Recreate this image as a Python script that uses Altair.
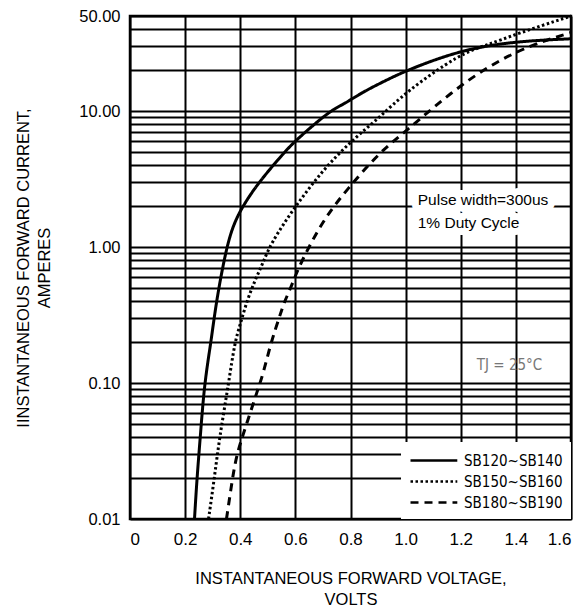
import altair as alt
import pandas as pd

# ---- data ----
series_names = ["SB120~SB140", "SB150~SB160", "SB180~SB190"]

v_solid = [0.234, 0.243, 0.255, 0.27, 0.294, 0.313, 0.35, 0.377, 0.409, 0.467, 0.561, 0.60,
           0.724, 0.771, 0.845, 0.918, 1.0, 1.2, 1.4, 1.6]
i_solid = [0.01, 0.02, 0.04, 0.1, 0.2, 0.4, 1.0, 1.49, 2.0, 3.0, 5.0, 6.06,
           10.0, 11.1, 13.8, 16.4, 19.8, 28.2, 32.6, 34.0]

v_dot = [0.285, 0.306, 0.325, 0.358, 0.38, 0.4, 0.424, 0.452, 0.482, 0.51, 0.6, 0.699,
         0.805, 0.907, 1.0, 1.2, 1.295, 1.4, 1.6]
i_dot = [0.01, 0.02, 0.04, 0.1, 0.2, 0.27, 0.4, 0.56, 0.76, 1.06, 2.0, 3.67,
         6.1, 9.0, 13.8, 26.6, 30.5, 36.8, 50.0]

v_dash = [0.35, 0.372, 0.387, 0.423, 0.464, 0.482, 0.512, 0.543, 0.561, 0.585, 0.608, 0.658,
          0.713, 0.786, 0.906, 1.0, 1.2, 1.4, 1.6]
i_dash = [0.01, 0.02, 0.03, 0.05, 0.09, 0.115, 0.2, 0.31, 0.4, 0.51, 0.68, 1.09,
          1.7, 2.63, 5.0, 7.06, 15.9, 28.2, 37.8]

x_ticks = [0, 0.2, 0.4, 0.6, 0.8, 1.0, 1.2, 1.4, 1.6]
y_grid = [0.01, 0.02, 0.03, 0.04, 0.05, 0.06, 0.07, 0.08, 0.09,
          0.1, 0.2, 0.3, 0.4, 0.5, 0.6, 0.7, 0.8, 0.9,
          1, 2, 3, 4, 5, 6, 7, 8, 9,
          10, 20, 30, 40, 50]
y_labeled = [0.01, 0.1, 1, 10, 50]

note_text = ["Pulse width=300us", "1% Duty Cycle"]
note_v = [1.044, 1.044]
note_i = [2.2, 1.49]

tj_text = ["TJ = 25°C"]
tj_v = [1.377]
tj_i = [0.135]

NARROW = "'DejaVu Sans Condensed', 'Liberation Sans', sans-serif"

# ---- tables ----
rows = []
for name, vs, is_ in zip(series_names, [v_solid, v_dot, v_dash], [i_solid, i_dot, i_dash]):
    for k, (v, i) in enumerate(zip(vs, is_)):
        rows.append({"series": name, "V": v, "I": i, "order": k})
df = pd.DataFrame(rows)
notes = pd.DataFrame({"V": note_v, "I": note_i, "text": note_text})
tj = pd.DataFrame({"V": tj_v, "I": tj_i, "text": tj_text})

lab_list = "[" + ",".join(str(v) for v in y_labeled) + "]"

x_enc = alt.X(
    "V:Q",
    scale=alt.Scale(domain=[0, 1.6], nice=False, zero=False),
    axis=alt.Axis(
        values=x_ticks,
        title=["INSTANTANEOUS FORWARD VOLTAGE,", "VOLTS"],
        labelExpr="datum.value == 0 ? '0' : format(datum.value, '.1f')",
        ticks=False, domain=False,
        grid=True, gridColor="black", gridWidth=2, gridOpacity=1,
        labelFontSize=17, labelColor="black", labelPadding=12,
        titleFontSize=16.5, titleFontWeight="normal", titleColor="black",
        titlePadding=23, titleLineHeight=21,
    ),
)
y_enc = alt.Y(
    "I:Q",
    scale=alt.Scale(type="log", domain=[0.01, 50], nice=False),
    axis=alt.Axis(
        values=y_grid,
        title=["IINSTANTANEOUS FORWARD CURRENT,", "AMPERES"],
        labelExpr="indexof(" + lab_list + ", datum.value) >= 0 ? format(datum.value, '.2f') : ''",
        ticks=False, domain=False,
        grid=True, gridColor="black", gridWidth=2, gridOpacity=1,
        labelFontSize=16.5, labelColor="black", labelPadding=10,
        titleFontSize=16.5, titleFontWeight="normal", titleColor="black",
        titlePadding=26, titleLineHeight=21,
    ),
)

lines = alt.Chart(df).mark_line(strokeWidth=3, color="black", interpolate="basis").encode(
    x=x_enc,
    y=y_enc,
    order="order:Q",
    strokeDash=alt.StrokeDash(
        "series:N",
        scale=alt.Scale(domain=series_names, range=[[1, 0], [2.5, 2.5], [8, 6]]),
        legend=alt.Legend(
            title=None, orient="bottom-right", offset=0, padding=8,
            fillColor="white", symbolType="M-1,0H4.2", symbolSize=324,
            symbolStrokeWidth=2.5, symbolStrokeColor="black",
            labelFont=NARROW, labelFontSize=15, labelColor="black",
            labelLimit=200, rowPadding=2, labelOffset=34,
        ),
    ),
)

halo = alt.Chart(notes).mark_text(
    align="left", baseline="middle", fontSize=15.5, color="white",
    stroke="white", strokeWidth=14, strokeJoin="round",
).encode(x="V:Q", y="I:Q", text="text:N")

note_layer = alt.Chart(notes).mark_text(
    align="left", baseline="middle", fontSize=15.5, color="black",
).encode(x="V:Q", y="I:Q", text="text:N")

tj_layer = alt.Chart(tj).mark_text(
    align="center", baseline="middle", fontSize=15, color="#777777",
    font=NARROW,
).encode(x="V:Q", y="I:Q", text="text:N")

chart = alt.layer(lines, halo, note_layer, tj_layer).properties(
    width=441, height=503,
    autosize=alt.AutoSizeParams(type="none"),
    padding={"left": 122, "top": 8, "right": 4, "bottom": 90},
).configure(
    font="Liberation Sans",
).configure_view(
    stroke="black", strokeWidth=2.5,
)

chart.save("out.html", embed_options={"renderer": "svg", "actions": False})
